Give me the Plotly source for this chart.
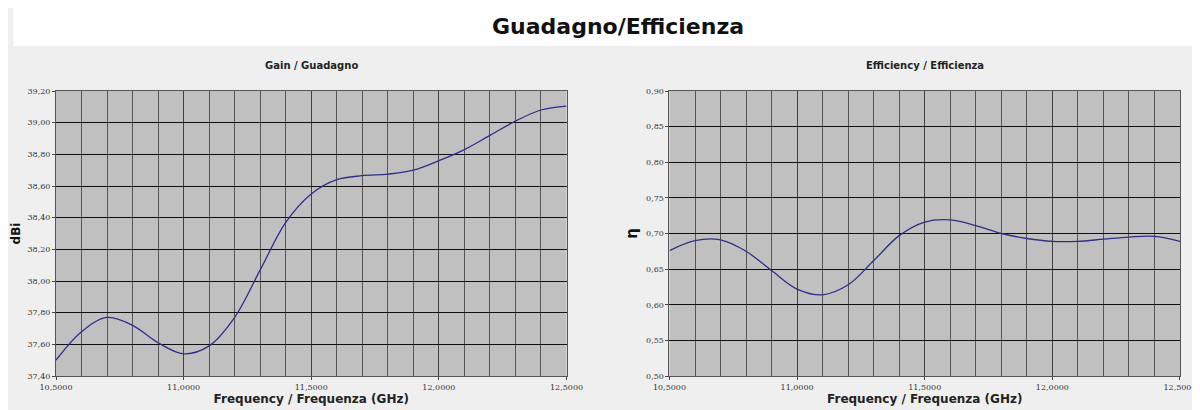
import plotly.graph_objects as go
from plotly.subplots import make_subplots

# frequency points (GHz)
freq = [10.5, 10.6, 10.7, 10.8, 10.9, 11.0, 11.1, 11.2, 11.3, 11.4, 11.5,
        11.6, 11.7, 11.8, 11.9, 12.0, 12.1, 12.2, 12.3, 12.4, 12.5]
gain_dbi = [37.50, 37.68, 37.77, 37.72, 37.61, 37.54, 37.59, 37.77, 38.07, 38.37, 38.55,
            38.64, 38.665, 38.675, 38.70, 38.76, 38.83, 38.92, 39.01, 39.08, 39.105]
efficiency = [0.676, 0.690, 0.691, 0.675, 0.648, 0.622, 0.614, 0.628, 0.662, 0.697, 0.716,
              0.719, 0.711, 0.700, 0.693, 0.689, 0.689, 0.692, 0.695, 0.696, 0.689]

BG = "#efefef"
PLOT_BG = "#c0c0c0"
LINE = "#2e2e8a"

fig = make_subplots(rows=1, cols=2, horizontal_spacing=0.0916)

fig.add_trace(go.Scatter(x=freq, y=gain_dbi, mode="lines", line_shape="spline",
                         line=dict(color=LINE, width=1.3), showlegend=False), row=1, col=1)
fig.add_trace(go.Scatter(x=freq, y=efficiency, mode="lines", line_shape="spline",
                         line=dict(color=LINE, width=1.3), showlegend=False), row=1, col=2)

xcommon = dict(range=[10.5, 12.5], tickvals=[10.5, 11.0, 11.5, 12.0, 12.5], tickformat=".4f",
               automargin=False,
               showgrid=True, gridcolor="#404040", gridwidth=1,
               minor=dict(dtick=0.1, showgrid=True, gridcolor="#555", gridwidth=1),
               tickfont=dict(size=8, family="DejaVu Serif", color="#333"),
               showline=True, linecolor="#555", mirror=True, ticks="outside", ticklen=3,
               title=dict(text="<b>Frequency / Frequenza (GHz)</b>", standoff=2,
                          font=dict(size=12, family="DejaVu Sans", color="#222")))
fig.update_xaxes(**xcommon, row=1, col=1)
fig.update_xaxes(**xcommon, row=1, col=2)

ycommon = dict(showgrid=True, gridcolor="#111", gridwidth=1, automargin=False,
               tickfont=dict(size=8, family="DejaVu Serif", color="#333"),
               showline=True, linecolor="#555", mirror=True, ticks="outside", ticklen=3)
fig.update_yaxes(**ycommon, range=[37.4, 39.2], dtick=0.2, tickformat=".2f",
                 title=dict(text="<b>dBi</b>", standoff=4, font=dict(size=12, family="DejaVu Sans", color="#111")),
                 row=1, col=1)
fig.update_yaxes(**ycommon, range=[0.5, 0.9], dtick=0.05, tickformat=".2f",
                 title=dict(text="<b>η</b>", standoff=4, font=dict(size=15, family="DejaVu Sans", color="#111")),
                 row=1, col=2)

fig.update_layout(
    width=1200, height=410, paper_bgcolor=BG, plot_bgcolor=PLOT_BG,
    separators=",.",
    margin=dict(l=48, r=28, t=83, b=42, autoexpand=False),
    shapes=[dict(type="rect", xref="paper", yref="paper", x0=-0.038, x1=1.016, y0=1.158, y1=1.30,
                 fillcolor="white", line=dict(width=0), layer="below")],
    annotations=[
        dict(text="<b>Guadagno/Efficienza</b>", xref="paper", yref="paper", x=0.5, y=1.225,
             yanchor="middle", showarrow=False, font=dict(size=22, family="DejaVu Sans", color="#111")),
        dict(text="<b>Gain / Guadagno</b>", xref="x domain", yref="paper", x=0.5, y=1.091,
             yanchor="middle", showarrow=False, font=dict(size=10, family="DejaVu Sans", color="#222")),
        dict(text="<b>Efficiency / Efficienza</b>", xref="x2 domain", yref="paper", x=0.5, y=1.091,
             yanchor="middle", showarrow=False, font=dict(size=10, family="DejaVu Sans", color="#222")),
    ],
)

fig.write_html("out.html")
